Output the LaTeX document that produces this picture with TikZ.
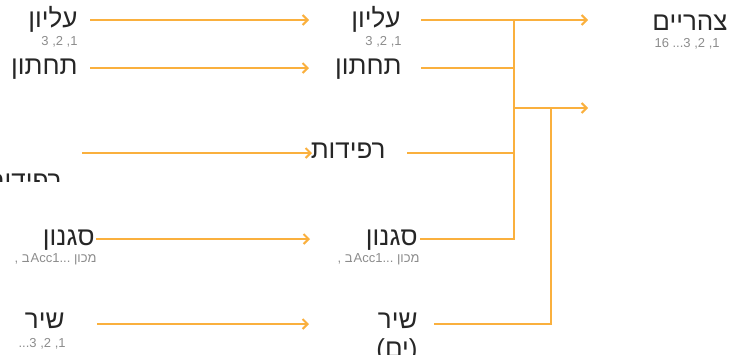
\documentclass[tikz,border=0pt]{standalone}
\usepackage{fontspec}
\setmainfont{Liberation Sans}
\newfontfamily\hebfont[Script=Hebrew]{Liberation Sans}
\usetikzlibrary{arrows.meta}
\usepackage{xcolor}
\TeXXeTstate=1
\definecolor{flowor}{RGB}{250,176,62}
\definecolor{labelgray}{RGB}{38,38,38}
\definecolor{subgray}{RGB}{140,140,140}
\newcommand{\hebtxt}[1]{{\hebfont\beginR #1\endR}}

\begin{document}
\begin{tikzpicture}[x=0.5pt,y=-0.5pt,
  lbl/.style={font=\fontsize{13}{14.5}\selectfont, text=labelgray, inner sep=0pt, anchor=base east},
  subtxt/.style={font=\fontsize{6.5}{8}\selectfont, text=subgray, inner sep=0pt, anchor=base east},
  flow/.style={draw=flowor, line width=1pt, -{Straight Barb[length=2.5pt,width=5pt]}},
  wire/.style={draw=flowor, line width=1pt, line join=miter}]
\useasboundingbox (0,0) rectangle (729,354);

% left column
\node[lbl] (upL) at (78,27) {\hebtxt{עליון}};
\node[subtxt] (upLs) at (78,45) {3 ,2 ,1};
\node[lbl] (lowL) at (78,74) {\hebtxt{תחתון}};
\begin{scope}
\clip (0,0) rectangle (729,181);
\node[lbl] (padL) at (62,189) {\hebtxt{רפידות}};
\end{scope}
\node[lbl] (styL) at (95,245) {\hebtxt{סגנון}};
\node[subtxt] (styLs) at (97,262) {, ב\kern0.5pt Acc1...\ \hebtxt{מכון}};
\node[lbl] (songL) at (65,328) {\hebtxt{שיר}};
\node[subtxt] (songLs) at (66,347) {...3 ,2 ,1};

% middle column
\node[lbl] (upM) at (401,27) {\hebtxt{עליון}};
\node[subtxt] (upMs) at (402,45) {3 ,2 ,1};
\node[lbl] (lowM) at (402,74) {\hebtxt{תחתון}};
\node[lbl] (padM) at (386,158) {\hebtxt{רפידות}};
\node[lbl] (styM) at (418,245) {\hebtxt{סגנון}};
\node[subtxt] (styMs) at (420,262) {, ב\kern0.5pt Acc1...\ \hebtxt{מכון}};
\node[lbl,align=right] (songM) at (418,357) {\hebtxt{שיר}\\\hebtxt{(ים)}};

% right column
\node[lbl] (noon) at (728,30) {\hebtxt{צהריים}};
\node[subtxt] (noons) at (720,47) {16 ...3 ,2 ,1};

% connector ends
\coordinate (upL-o) at (90,20);   \coordinate (upM-i) at (309,20);
\coordinate (lowL-o) at (90,68);  \coordinate (lowM-i) at (309,68);
\coordinate (padL-o) at (82,153); \coordinate (padM-i) at (312,153);
\coordinate (styL-o) at (96,239); \coordinate (styM-i) at (310,239);
\coordinate (songL-o) at (97,324); \coordinate (songM-i) at (309,324);
\coordinate (upM-o) at (421,20);  \coordinate (noon-i) at (588,20);
\coordinate (lowM-o) at (421,68); \coordinate (padM-o) at (407,153);
\coordinate (styM-o) at (420,239); \coordinate (songM-o) at (434,324);
\coordinate (busA-t) at (514,20); \coordinate (busA-b) at (514,239);
\coordinate (busA-m) at (514,108); \coordinate (out2) at (588,108);
\coordinate (busB-t) at (551,108); \coordinate (busB-b) at (551,324);

\draw[flow] (upL-o) -- (upM-i);
\draw[flow] (lowL-o) -- (lowM-i);
\draw[flow] (padL-o) -- (padM-i);
\draw[flow] (styL-o) -- (styM-i);
\draw[flow] (songL-o) -- (songM-i);

\draw[flow] (upM-o) -- (noon-i);
\draw[wire] (lowM-o) -- (lowM-o -| busA-t);
\draw[wire] (padM-o) -- (padM-o -| busA-t);
\draw[wire] (styM-o) -- (busA-b) -- (busA-t);
\draw[flow] (busA-m) -- (out2);
\draw[wire] (songM-o) -- (busB-b) -- (busB-t);
\end{tikzpicture}
\end{document}
